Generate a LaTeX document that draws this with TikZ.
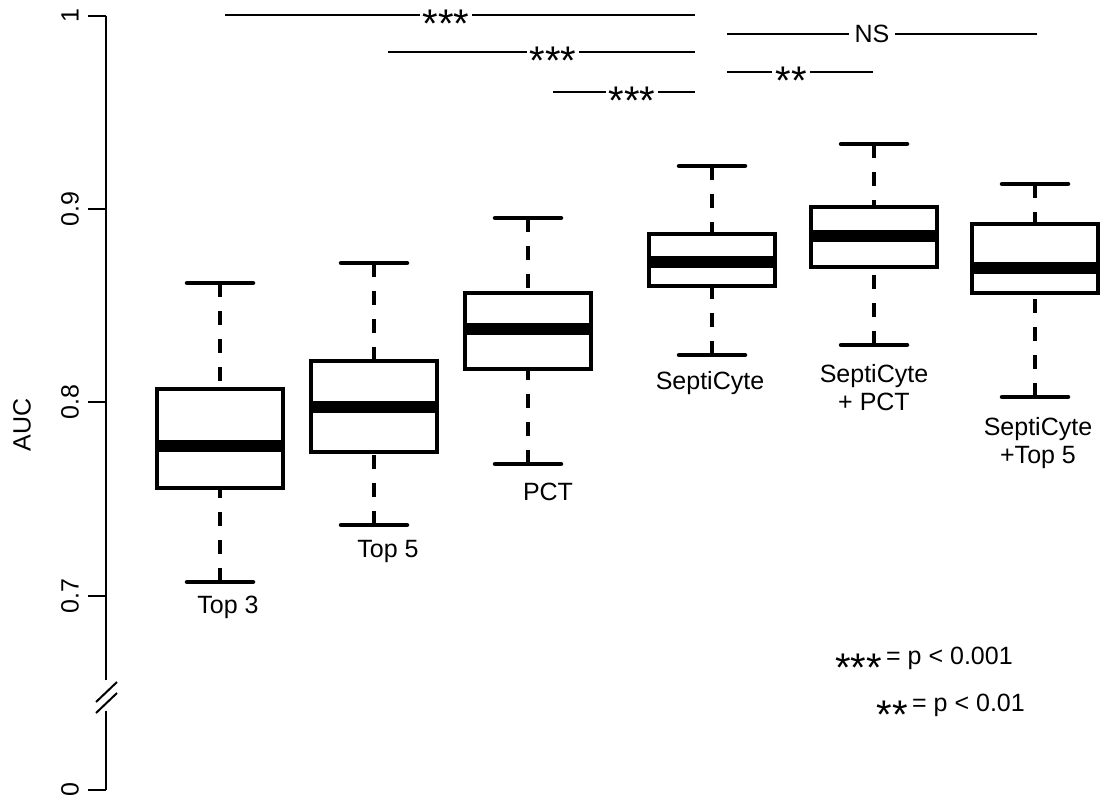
\documentclass[tikz,border=0pt]{standalone}
\usepackage{fontspec}
\setmainfont{Liberation Sans}
\begin{document}
\begin{tikzpicture}[x=1pt,y=-1pt,
  box/.style={line width=4.5pt},
  med/.style={line width=12pt},
  whisk/.style={line width=4.5pt,dash pattern=on 14pt off 14pt},
  wcap/.style={line width=4.5pt,line cap=round},
  ax/.style={line width=2pt},
  sig/.style={line width=2pt},
  lab/.style={font=\fontsize{25}{28}\selectfont,align=center,inner sep=0pt},
  st/.style={font=\fontsize{40}{40}\selectfont,fill=white,inner sep=3pt,text depth=0pt},
  ]
\useasboundingbox (0,0) rectangle (1107,800);
% axis
\draw[ax] (106,16) -- (106,680);
\draw[ax] (106,711) -- (106,790);
\draw[ax] (96,702) -- (117,682);
\draw[ax] (96,713) -- (117,693);
\foreach \y/\t in {16/1,209/0.9,402/0.8,596/0.7,790/0}{
  \draw[ax] (88,\y) -- (106,\y);
  \node[lab,rotate=90] (t\t) at (70,\y) {\t};
}
\node[lab,rotate=90] (auc) at (22,425) {AUC};
% boxes: name/cx/wtop/top/med/bot/wbot
\foreach \n/\c/\wt/\bt/\md/\bb/\wb in {a/220/283/389/446/488/582, b/374/263/361/407/452/525, c/528/218/293/329/369/464, d/712/166/234/262/286/355, e/874/144/207/236/267/345, f/1035/184/224/268/293/397}{
  \draw[whisk] (\c,\wt) -- (\c,\bt);
  \draw[whisk] (\c,\wb) -- (\c,\bb);
  \draw[wcap] (\c-33,\wt) -- (\c+33,\wt);
  \draw[wcap] (\c-33,\wb) -- (\c+33,\wb);
  \draw[box,fill=white] (\c-63,\bt) rectangle (\c+63,\bb);
  \draw[med] (\c-63,\md) -- (\c+63,\md);
}
\node[lab] (la) at (228,607) {Top 3};
\node[lab] (lb) at (388,551) {Top 5};
\node[lab] (lc) at (548,492) {PCT};
\node[lab] (ld) at (710,383) {SeptiCyte};
\node[lab] (le) at (874,388) {SeptiCyte\\+ PCT};
\node[lab] (lf) at (1038,443) {SeptiCyte\\+Top 5};
% significance
\draw[sig] (225,15) -- (695,15);
\node[st] (s1) at (446,24) {***};
\draw[sig] (388,52) -- (695,52);
\node[st] (s2) at (553,61) {***};
\draw[sig] (553,92) -- (695,92);
\node[st] (s3) at (632,101) {***};
\draw[sig] (727,34) -- (1037,34);
\node[lab,fill=white,inner sep=6pt] (ns) at (872,34) {NS};
\draw[sig] (727,72) -- (873,72);
\node[st] (s4) at (791,81) {**};
% legend
\node[font=\fontsize{40}{40}\selectfont,inner sep=0pt,anchor=east] (k1) at (882,668) {***};
\node[lab,anchor=west] (k1t) at (886,658) {= p < 0.001};
\node[font=\fontsize{40}{40}\selectfont,inner sep=0pt,anchor=east] (k2) at (908,715) {**};
\node[lab,anchor=west] (k2t) at (912,705) {= p < 0.01};
\end{tikzpicture}
\end{document}
